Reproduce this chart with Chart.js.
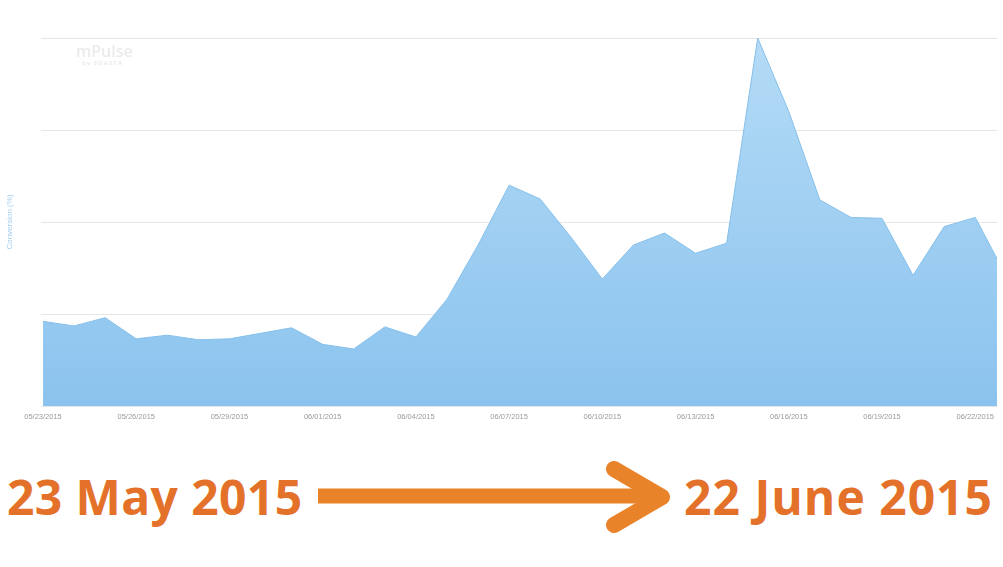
<!DOCTYPE html>
<html>
<head>
<meta charset="utf-8">
<script src="https://cdn.jsdelivr.net/npm/chart.js@4/dist/chart.umd.min.js"></script>
<style>
  html, body { margin: 0; padding: 0; background: #fff; }
  #wrap { position: relative; width: 1003px; height: 567px; overflow: hidden; }
  #chartBox { position: absolute; left: 0; top: 0; width: 1003px; height: 430px; }
  .big { position: absolute; font-family: "Open Sans", sans-serif; font-weight: 700; font-size: 48px;
         color: #e4712a; letter-spacing: 1px; line-height: 1; white-space: nowrap; }
  #arrow { position: absolute; left: 0; top: 0; }
</style>
</head>
<body>
<div id="wrap">
  <div id="chartBox"><canvas id="c"></canvas></div>
  <div class="big" id="fromTxt" style="left:7px; top:473px; letter-spacing:0.4px;">23 May 2015</div>
  <div class="big" id="toTxt" style="right:10px; top:473px;">22 June 2015</div>
  <svg id="arrow" width="1003" height="567">
    <line x1="318" y1="496" x2="655" y2="496" stroke="#e9832a" stroke-width="15"/>
    <polyline points="614,469 662,497 614,525" fill="none" stroke="#e9832a" stroke-width="16" stroke-linecap="round" stroke-linejoin="round"/>
  </svg>
</div>
<script>
// ---- data ----
const dates = [
  "05/23/2015","05/24/2015","05/25/2015","05/26/2015","05/27/2015","05/28/2015","05/29/2015","05/30/2015",
  "05/31/2015","06/01/2015","06/02/2015","06/03/2015","06/04/2015","06/05/2015","06/06/2015","06/07/2015",
  "06/08/2015","06/09/2015","06/10/2015","06/11/2015","06/12/2015","06/13/2015","06/14/2015","06/15/2015",
  "06/16/2015","06/17/2015","06/18/2015","06/19/2015","06/20/2015","06/21/2015","06/22/2015","06/23/2015"
];
const conversion = [
  0.92, 0.87, 0.96, 0.73, 0.77, 0.72, 0.73, 0.79,
  0.85, 0.67, 0.62, 0.86, 0.75, 1.16, 1.75, 2.40,
  2.25, 1.83, 1.38, 1.75, 1.88, 1.66, 1.77, 4.00,
  3.20, 2.24, 2.05, 2.04, 1.42, 1.95, 2.05, 1.41
];
const tickLabels = ["05/23/2015","05/26/2015","05/29/2015","06/01/2015","06/04/2015","06/07/2015",
  "06/10/2015","06/13/2015","06/16/2015","06/19/2015","06/22/2015"];
const yAxisTitle = "Conversion (%)";

const points = conversion.map((v, i) => ({ x: i, y: v }));
const tickIndices = tickLabels.map(l => dates.indexOf(l));

const watermark = {
  id: 'watermark',
  beforeDatasetsDraw(chart) {
    const ctx = chart.ctx;
    ctx.save();
    ctx.fillStyle = '#ebebeb';
    ctx.font = '600 16px "Open Sans", sans-serif';
    ctx.textBaseline = 'alphabetic';
    ctx.fillText('mPulse', 76, 57);
    ctx.font = '700 6px "Open Sans", sans-serif';
    if ('letterSpacing' in ctx) ctx.letterSpacing = '1px';
    ctx.fillText('by SOASTA', 82, 65);
    ctx.restore();
  }
};

const ctx = document.getElementById('c').getContext('2d');
new Chart(ctx, {
  type: 'line',
  data: {
    datasets: [{
      data: points,
      borderColor: '#86c0ea',
      borderWidth: 1,
      pointRadius: 0,
      tension: 0,
      fill: 'origin',
      clip: 0,
      backgroundColor(c) {
        const a = c.chart.chartArea;
        if (!a) return '#9ccdf1';
        const g = c.chart.ctx.createLinearGradient(0, a.top, 0, a.bottom);
        g.addColorStop(0, '#b4dbf6');
        g.addColorStop(1, '#8bc3ee');
        return g;
      }
    }]
  },
  options: {
    responsive: true,
    maintainAspectRatio: false,
    animation: false,
    layout: { padding: { top: 38, right: 6, left: 0, bottom: 0 } },
    plugins: { legend: { display: false }, tooltip: { enabled: false } },
    scales: {
      x: {
        type: 'linear',
        min: 0,
        max: 30.7,
        grid: { display: false },
        border: { display: false },
        afterBuildTicks(s) { s.ticks = tickIndices.map(v => ({ value: v })); },
        ticks: {
          autoSkip: false,
          maxRotation: 0,
          padding: -2,
          color: '#9a9a9a',
          font: { size: 7.5, family: 'Arial, "Liberation Sans", sans-serif' },
          callback(v) { return dates[v] || ''; }
        },
        afterFit(s) { s.height = 24; }
      },
      y: {
        min: 0,
        max: 4,
        grid: { color: '#e6e6e6', lineWidth: 1, drawTicks: true, tickLength: 2 },
        border: { display: false },
        ticks: { display: false, stepSize: 1 },
        title: {
          display: true,
          text: yAxisTitle,
          color: '#a6d0f1',
          font: { size: 8, family: 'Arial, "Liberation Sans", sans-serif' },
          padding: { top: 5, bottom: 0 }
        },
        afterFit(s) { s.width = 43; }
      }
    }
  },
  plugins: [watermark]
});
</script>
</body>
</html>
